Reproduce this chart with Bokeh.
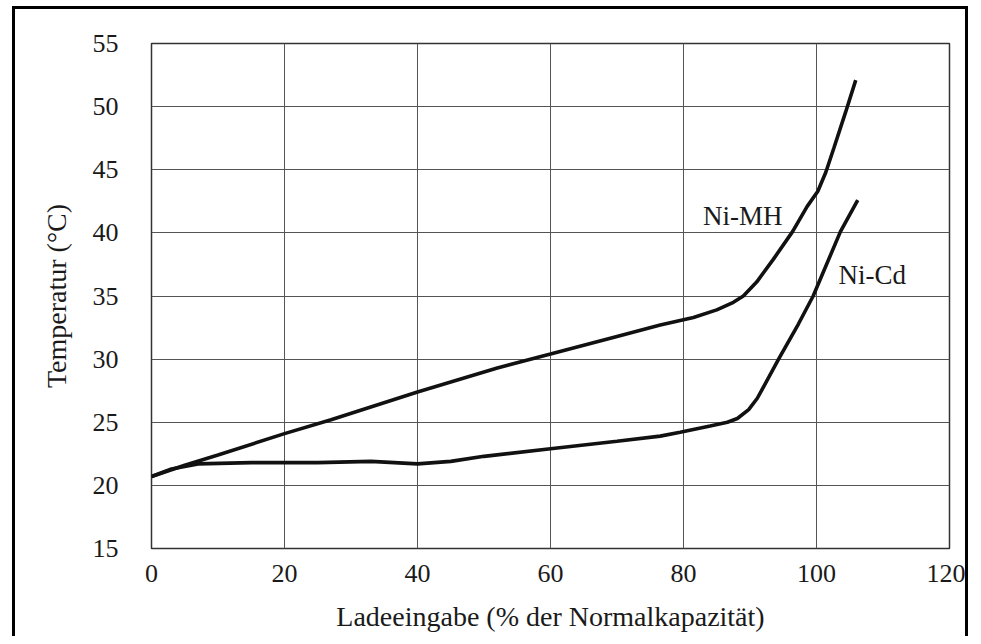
from bokeh.plotting import figure
from bokeh.models import FixedTicker, Range1d
from bokeh.core.properties import value
from bokeh.embed import file_html
from bokeh.resources import INLINE

# Data
x_ticks = [0, 20, 40, 60, 80, 100, 120]
y_ticks = [15, 20, 25, 30, 35, 40, 45, 50, 55]

nimh_x = [0, 5, 10, 20, 27, 40, 52, 60, 70, 76.5, 81.5, 85, 87.5, 89, 91, 93.5, 96.4, 98.6, 100.2, 101.4, 102.6, 104.4, 105.9]
nimh_y = [20.7, 21.6, 22.4, 24.1, 25.2, 27.4, 29.3, 30.4, 31.8, 32.7, 33.3, 33.9, 34.5, 35.0, 36.1, 37.9, 40.1, 42.1, 43.3, 44.8, 46.7, 49.6, 52.1]

nicd_x = [0, 3, 7, 15, 25, 33, 40, 45, 50, 60, 70, 76.5, 79.5, 84, 86.6, 88.1, 89.8, 91.1, 94.3, 97.3, 99.5, 103.6, 106.2]
nicd_y = [20.7, 21.3, 21.7, 21.8, 21.8, 21.9, 21.7, 21.9, 22.3, 22.9, 23.5, 23.9, 24.2, 24.7, 25.0, 25.3, 26.0, 26.9, 30.0, 32.8, 35.0, 40.1, 42.6]

label_names = ["Ni-MH", "Ni-Cd"]
label_x = [88.9, 108.4]
label_y = [41.3, 36.7]

FONT = "Liberation Serif"
INK = "#1a1a1a"

p = figure(width=956, height=630, output_backend="svg", toolbar_location=None,
           x_range=Range1d(0, 120), y_range=Range1d(15, 55),
           min_border_left=136, min_border_right=22, min_border_top=34, min_border_bottom=91,
           background_fill_color="white", border_fill_color="white")
# outer black frame of the scanned figure (open at the bottom)
p.styles = {"margin-left": "12px", "margin-top": "6px",
            "border-left": "3px solid black", "border-top": "3px solid black",
            "border-right": "3px solid black"}

p.xaxis.ticker = FixedTicker(ticks=x_ticks)
p.yaxis.ticker = FixedTicker(ticks=y_ticks)
p.xgrid.ticker = FixedTicker(ticks=x_ticks)
p.ygrid.ticker = FixedTicker(ticks=y_ticks)

for g in (p.xgrid, p.ygrid):
    g.grid_line_color = "#555555"
    g.grid_line_width = 1

p.outline_line_color = "#333333"
p.outline_line_width = 1.5

for ax in (p.xaxis, p.yaxis):
    ax.axis_line_color = None
    ax.major_tick_line_color = None
    ax.minor_tick_line_color = None
    ax.major_label_text_font = FONT
    ax.major_label_text_font_size = "26px"
    ax.major_label_text_color = INK
    ax.axis_label_text_font = FONT
    ax.axis_label_text_font_size = "28px"
    ax.axis_label_text_font_style = "normal"
    ax.axis_label_text_color = INK

p.xaxis.axis_label = "Ladeeingabe (% der Normalkapazität)"
p.yaxis.axis_label = "Temperatur (°C)"
p.xaxis.major_label_standoff = 10
p.yaxis.major_label_standoff = 27
p.xaxis.axis_label_standoff = 16
p.yaxis.axis_label_standoff = 18

p.line(nimh_x, nimh_y, line_color="#111111", line_width=3.6)
p.line(nicd_x, nicd_y, line_color="#111111", line_width=3.6)

p.text(x=label_x, y=label_y, text=label_names, text_font=value(FONT),
       text_font_size="27px", text_color=INK, text_align="center", text_baseline="middle")

open("out.html", "w").write(file_html(p, INLINE))
